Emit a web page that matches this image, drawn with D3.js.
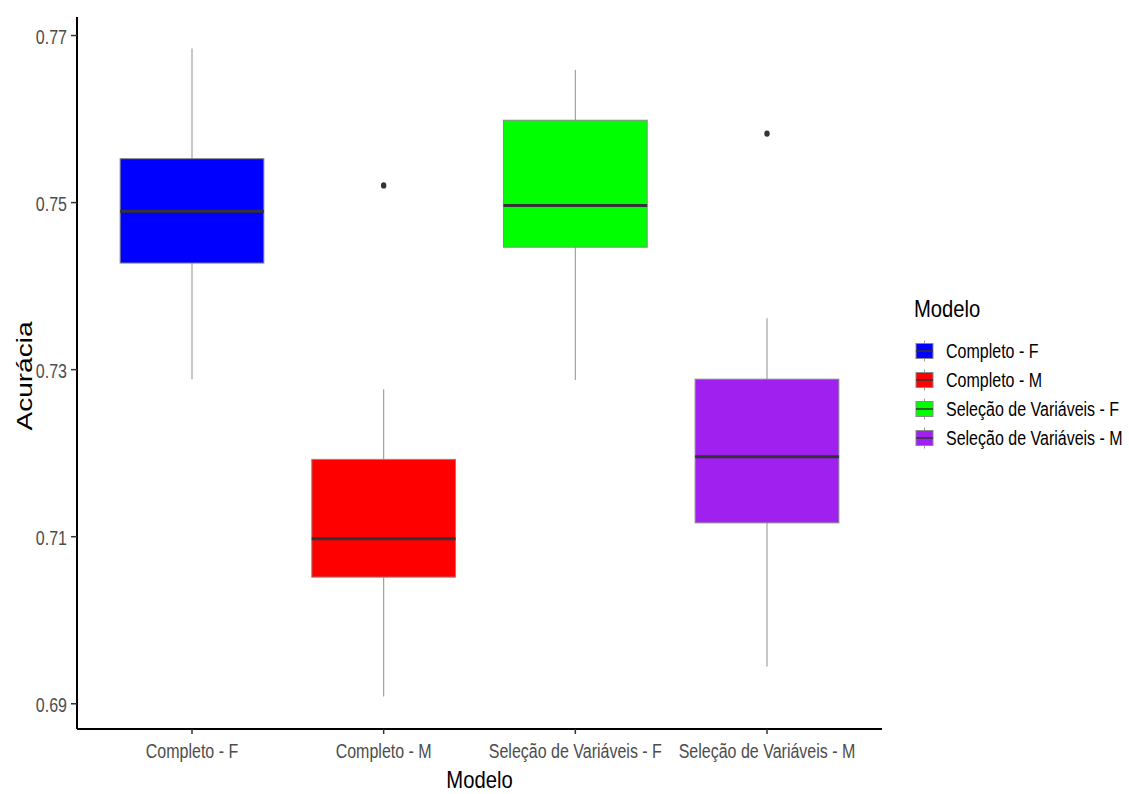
<!DOCTYPE html>
<html>
<head>
<meta charset="utf-8">
<script src="https://cdn.jsdelivr.net/npm/d3@7"></script>
<style>
  body { margin: 0; background: #fff; }
  svg text { font-family: "Liberation Sans", Arial, sans-serif; }
</style>
</head>
<body>
<svg id="chart"></svg>
<script>
// box stats
var categories = ["Completo - F", "Completo - M", "Seleção de Variáveis - F", "Seleção de Variáveis - M"];
var colors     = ["#0000FF", "#FF0000", "#00FF00", "#A020F0"];
var whiskerLow = [0.7288, 0.6908, 0.7287, 0.6944];
var q1         = [0.7427, 0.7051, 0.7446, 0.7116];
var medians    = [0.7489, 0.7097, 0.7496, 0.7195];
var q3         = [0.7552, 0.7192, 0.7598, 0.7288];
var whiskerHigh= [0.7684, 0.7276, 0.7658, 0.7361];
var outliers   = [[], [0.7520], [], [0.7582]];
var yTicks     = [0.69, 0.71, 0.73, 0.75, 0.77];

var width = 1129, height = 794;
var margin = {top: 17, right: 247, bottom: 65, left: 77};
var squeeze = 0.8;  // text in the picture looks horizontally condensed

var svg = d3.select("#chart")
    .attr("width", width)
    .attr("height", height);

// ggplot style discrete axis: 0.6 units of expansion on each side
var x = d3.scaleBand()
    .domain(categories)
    .range([margin.left, width - margin.right])
    .paddingOuter(0.1)
    .paddingInner(0);

var y = d3.scaleLinear()
    .domain([0.68692, 0.77216])
    .range([height - margin.bottom, margin.top]);

var boxW = x.bandwidth() * 0.75;

var data = categories.map(function (c, i) {
    return {name: c, color: colors[i], lo: whiskerLow[i], q1: q1[i], med: medians[i],
            q3: q3[i], hi: whiskerHigh[i], out: outliers[i]};
});

var boxes = svg.append("g").selectAll("g")
    .data(data)
    .enter().append("g")
    .attr("transform", function (d) { return "translate(" + (x(d.name) + x.bandwidth() / 2) + ",0)"; });

// whiskers
boxes.append("line")
    .attr("x1", 0).attr("x2", 0)
    .attr("y1", function (d) { return y(d.hi); })
    .attr("y2", function (d) { return y(d.q3); })
    .attr("stroke", "#999").attr("stroke-width", 1.1);
boxes.append("line")
    .attr("x1", 0).attr("x2", 0)
    .attr("y1", function (d) { return y(d.q1); })
    .attr("y2", function (d) { return y(d.lo); })
    .attr("stroke", "#999").attr("stroke-width", 1.1);

boxes.append("rect")
    .attr("x", -boxW / 2)
    .attr("width", boxW)
    .attr("y", function (d) { return y(d.q3); })
    .attr("height", function (d) { return y(d.q1) - y(d.q3); })
    .attr("fill", function (d) { return d.color; })
    .attr("stroke", "#8a8a8a").attr("stroke-width", 1);

boxes.append("line")
    .attr("x1", -boxW / 2).attr("x2", boxW / 2)
    .attr("y1", function (d) { return y(d.med); })
    .attr("y2", function (d) { return y(d.med); })
    .attr("stroke", "#333").attr("stroke-width", 3);

boxes.selectAll("ellipse")
    .data(function (d) { return d.out; })
    .enter().append("ellipse")
    .attr("cx", 0)
    .attr("cy", function (v) { return y(v); })
    .attr("rx", 2.7)
    .attr("ry", 3.2)
    .attr("fill", "#333");

// axes
var xAxis = svg.append("g")
    .attr("transform", "translate(0," + (height - margin.bottom) + ")")
    .call(d3.axisBottom(x).tickSize(5));
var yAxis = svg.append("g")
    .attr("transform", "translate(" + margin.left + ",0)")
    .call(d3.axisLeft(y).tickValues(yTicks).tickFormat(d3.format(".2f")).tickSize(6));

[xAxis, yAxis].forEach(function (a) {
    a.select(".domain").attr("stroke", "#000").attr("stroke-width", 2);
    a.selectAll(".tick line").attr("stroke", "#333").attr("stroke-width", 1.5);
    a.selectAll(".tick text")
        .attr("fill", "#4d4d4d")
        .style("font-size", "20px")
        .attr("x", 0).attr("y", 0).attr("dy", null);
});
xAxis.selectAll(".tick text").attr("transform", "translate(0,29) scale(" + squeeze + ",1)");
yAxis.selectAll(".tick text").attr("transform", "translate(-10,8) scale(" + squeeze + ",1)");
// domains without the end ticks
xAxis.select(".domain").attr("d", "M" + margin.left + ",0H" + (width - margin.right));
yAxis.select(".domain").attr("d", "M0," + margin.top + "V" + (height - margin.bottom));

svg.append("text")
    .attr("transform", "translate(" + ((margin.left + width - margin.right) / 2) + ",788) scale(0.88,1)")
    .attr("text-anchor", "middle")
    .style("font-size", "23px")
    .attr("fill", "#000")
    .text("Modelo");

svg.append("text")
    .attr("transform", "translate(32," + ((margin.top + height - margin.bottom) / 2 + 3) + ") scale(" + squeeze + ",1) rotate(-90)")
    .attr("text-anchor", "middle")
    .style("font-size", "28px")
    .attr("fill", "#000")
    .text("Acurácia");

// legend
var legend = svg.append("g").attr("transform", "translate(914,0)");
legend.append("text")
    .attr("transform", "translate(0,317) scale(0.88,1)")
    .style("font-size", "23px")
    .attr("fill", "#000")
    .text("Modelo");

var keySize = 17;
var items = legend.selectAll("g.item")
    .data(data)
    .enter().append("g")
    .attr("class", "item")
    .attr("transform", function (d, i) { return "translate(0," + (351 + i * 29) + ")"; });

items.append("line")
    .attr("x1", keySize / 2 + 2).attr("x2", keySize / 2 + 2)
    .attr("y1", -keySize / 2 - 2).attr("y2", keySize / 2 + 2)
    .attr("stroke", "#999");
items.append("rect")
    .attr("x", 2).attr("y", -keySize / 2 + 1)
    .attr("width", keySize).attr("height", keySize - 2)
    .attr("fill", function (d) { return d.color; })
    .attr("stroke", "#8a8a8a");
items.append("line")
    .attr("x1", 2).attr("x2", keySize + 2)
    .attr("y1", 0).attr("y2", 0)
    .attr("stroke", "#333").attr("stroke-width", 1.5);
items.append("text")
    .attr("transform", "translate(32,7) scale(" + squeeze + ",1)")
    .style("font-size", "20px")
    .attr("fill", "#000")
    .text(function (d) { return d.name; });
</script>
</body>
</html>
